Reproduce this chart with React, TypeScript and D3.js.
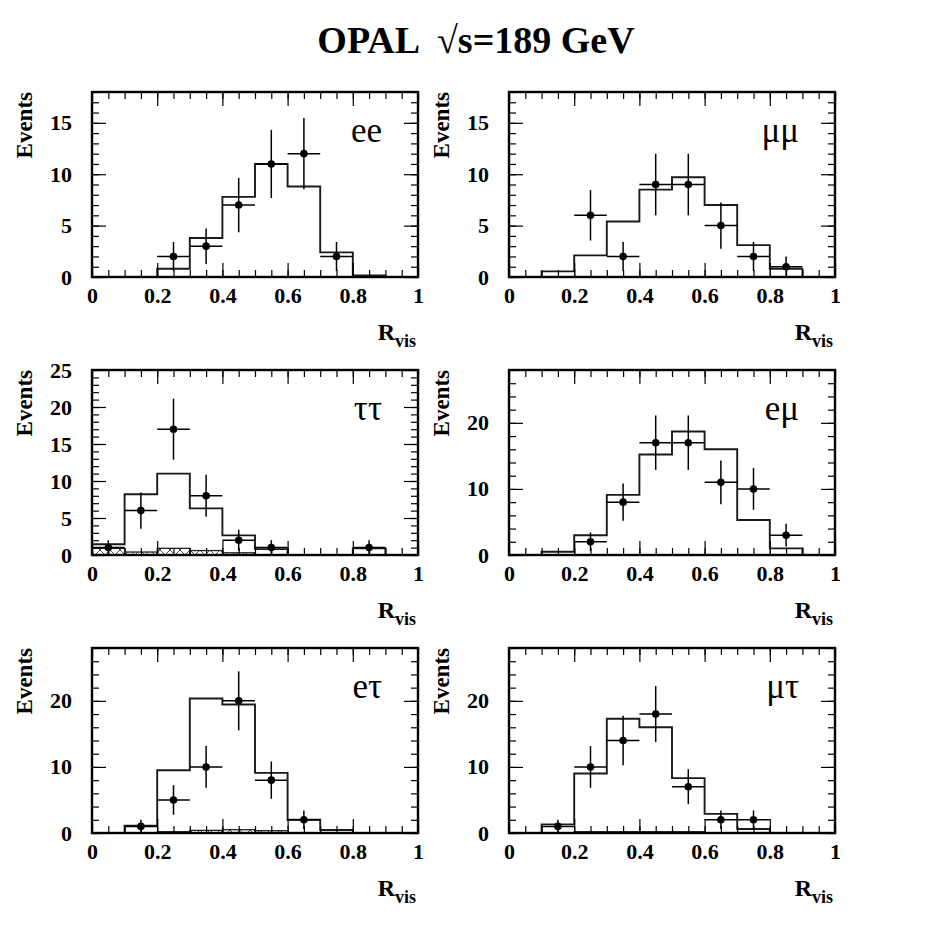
import React, { useEffect, useRef } from "react";
import * as d3 from "d3";

// bin edges of R_vis (10 bins of 0.1)
const binEdges = [0, 0.1, 0.2, 0.3, 0.4, 0.5, 0.6, 0.7, 0.8, 0.9, 1.0];
const binCenters = [0.05, 0.15, 0.25, 0.35, 0.45, 0.55, 0.65, 0.75, 0.85, 0.95];
const xTicks = [0, 0.2, 0.4, 0.6, 0.8, 1];

// ee
const eeMC = [0, 0, 0.8, 3.8, 7.8, 11.0, 8.8, 2.4, 0.15, 0];
const eeBkg = [0, 0, 0, 0, 0, 0, 0, 0, 0, 0];
const eeData = [0, 0, 2, 3, 7, 11, 12, 2, 0, 0];
const eeErr = [0, 0, 1.41, 1.73, 2.65, 3.32, 3.46, 1.41, 0, 0];

// mumu
const mmMC = [0, 0.55, 2.1, 5.4, 8.5, 9.7, 7.0, 3.1, 0.8, 0];
const mmBkg = [0, 0, 0, 0, 0, 0, 0, 0, 0, 0];
const mmData = [0, 0, 6, 2, 9, 9, 5, 2, 1, 0];
const mmErr = [0, 0, 2.45, 1.41, 3.0, 3.0, 2.24, 1.41, 1.0, 0];

// tautau
const ttMC = [1.45, 8.2, 11.0, 6.3, 2.65, 0.8, 0, 0, 0.9, 0];
const ttBkg = [0.9, 0.4, 0.9, 0.6, 0.3, 0, 0, 0, 0, 0];
const ttData = [1, 6, 17, 8, 2, 1, 0, 0, 1, 0];
const ttErr = [1.0, 2.45, 4.12, 2.83, 1.41, 1.0, 0, 0, 1.0, 0];

// emu
const emMC = [0, 0.5, 3.0, 9.1, 15.2, 18.7, 16.0, 5.3, 1.0, 0];
const emBkg = [0, 0, 0, 0, 0, 0, 0, 0, 0, 0];
const emData = [0, 0, 2, 8, 17, 17, 11, 10, 3, 0];
const emErr = [0, 0, 1.41, 2.83, 4.12, 4.12, 3.32, 3.16, 1.73, 0];

// etau
const etMC = [0, 1.1, 9.5, 20.35, 19.45, 9.1, 2.0, 0.45, 0, 0];
const etBkg = [0, 0, 0.2, 0.4, 0.5, 0.35, 0, 0, 0, 0];
const etData = [0, 1, 5, 10, 20, 8, 2, 0, 0, 0];
const etErr = [0, 1.0, 2.24, 3.16, 4.47, 2.83, 1.41, 0, 0, 0];

// mutau
const mtMC = [0, 1.3, 9.0, 17.3, 16.0, 8.3, 2.9, 0.6, 0, 0];
const mtBkg = [0, 0, 0.2, 0.2, 0.2, 0.2, 0, 0, 0, 0];
const mtData = [0, 1, 10, 14, 18, 7, 2, 2, 0, 0];
const mtErr = [0, 1.0, 3.16, 3.74, 4.24, 2.65, 1.41, 1.41, 0, 0];

type Panel = {
  label: string;
  mc: number[];
  bkg: number[];
  data: number[];
  err: number[];
  ymax: number;
  yTicks: number[];
  yMinor: number;
};

const panels: Panel[] = [
  { label: "ee", mc: eeMC, bkg: eeBkg, data: eeData, err: eeErr, ymax: 18, yTicks: [0, 5, 10, 15], yMinor: 1 },
  { label: "μμ", mc: mmMC, bkg: mmBkg, data: mmData, err: mmErr, ymax: 18, yTicks: [0, 5, 10, 15], yMinor: 1 },
  { label: "ττ", mc: ttMC, bkg: ttBkg, data: ttData, err: ttErr, ymax: 25, yTicks: [0, 5, 10, 15, 20, 25], yMinor: 1 },
  { label: "eμ", mc: emMC, bkg: emBkg, data: emData, err: emErr, ymax: 28, yTicks: [0, 10, 20], yMinor: 2 },
  { label: "eτ", mc: etMC, bkg: etBkg, data: etData, err: etErr, ymax: 28, yTicks: [0, 10, 20], yMinor: 2 },
  { label: "μτ", mc: mtMC, bkg: mtBkg, data: mtData, err: mtErr, ymax: 28, yTicks: [0, 10, 20], yMinor: 2 },
];

const FONT = "'Liberation Serif', 'Times New Roman', serif";
const colLeft = [92, 509];
const rowTop = [92, 370, 648];
const PW = 326;
const PH = 185;

const App: React.FC = () => {
  const ref = useRef<SVGSVGElement | null>(null);

  useEffect(() => {
    if (!ref.current) return;
    const svg = d3.select(ref.current);
    svg.selectAll("*").remove();

    // cross hatch for the background histogram
    const defs = svg.append("defs");
    const pat = defs
      .append("pattern")
      .attr("id", "hatch")
      .attr("patternUnits", "userSpaceOnUse")
      .attr("width", 10)
      .attr("height", 10);
    pat
      .append("path")
      .attr("d", "M0,0 L10,10 M10,0 L0,10")
      .attr("stroke", "#222")
      .attr("stroke-width", 0.8);

    // title
    svg
      .append("text")
      .attr("x", 476)
      .attr("y", 53)
      .attr("text-anchor", "middle")
      .attr("font-family", FONT)
      .attr("font-weight", "bold")
      .attr("font-size", 38)
      .style("white-space", "pre")
      .text("OPAL  √s=189 GeV");

    panels.forEach((p, i) => {
      const left = colLeft[i % 2];
      const top = rowTop[Math.floor(i / 2)];
      const x = d3.scaleLinear().domain([0, 1]).range([left, left + PW]);
      const y = d3.scaleLinear().domain([0, p.ymax]).range([top + PH, top]);
      const g = svg.append("g");

      // background histogram (hatched)
      p.bkg.forEach((v, b) => {
        if (v <= 0) return;
        g.append("rect")
          .attr("x", x(binEdges[b]))
          .attr("y", y(v))
          .attr("width", x(binEdges[b + 1]) - x(binEdges[b]))
          .attr("height", y(0) - y(v))
          .attr("fill", "url(#hatch)")
          .attr("stroke", "#222")
          .attr("stroke-width", 1.3);
      });

      // MC histogram outline
      const pts: [number, number][] = [[0, 0]];
      p.mc.forEach((v, b) => pts.push([binEdges[b], v]));
      pts.push([1, p.mc[p.mc.length - 1]]);
      pts.push([1, 0]);
      const line = d3
        .line<[number, number]>()
        .x((d) => x(d[0]))
        .y((d) => y(d[1]))
        .curve(d3.curveStepAfter);
      g.append("path")
        .attr("d", line(pts))
        .attr("fill", "none")
        .attr("stroke", "#1a1a1a")
        .attr("stroke-width", 1.9);

      // data points
      p.data.forEach((v, b) => {
        if (v <= 0) return;
        const cx = x(binCenters[b]);
        g.append("line")
          .attr("x1", x(binEdges[b]))
          .attr("x2", x(binEdges[b + 1]))
          .attr("y1", y(v))
          .attr("y2", y(v))
          .attr("stroke", "#000")
          .attr("stroke-width", 1.5);
        g.append("line")
          .attr("x1", cx)
          .attr("x2", cx)
          .attr("y1", y(Math.max(0, v - p.err[b])))
          .attr("y2", y(v + p.err[b]))
          .attr("stroke", "#000")
          .attr("stroke-width", 1.5);
        g.append("circle")
          .attr("cx", cx)
          .attr("cy", y(v))
          .attr("r", 3.8)
          .attr("fill", "#000");
      });

      // axes (ticks pointing inwards)
      const styleAxis = (a: d3.Selection<SVGGElement, unknown, null, undefined>) => {
        a.select(".domain").remove();
        a.selectAll("line").attr("stroke", "#000").attr("stroke-width", 1.2);
        a.selectAll("text")
          .attr("font-family", FONT)
          .attr("font-weight", "bold")
          .attr("font-size", 22)
          .attr("fill", "#000");
      };
      const xMinor = d3.range(0, 1.0001, 0.05);
      const yMinor = d3.range(0, p.ymax + 0.001, p.yMinor);

      const bottom = g.append("g").attr("transform", `translate(0,${top + PH})`);
      bottom.append("g").call(d3.axisBottom(x).tickValues(xMinor).tickSize(-7).tickFormat(() => "")).call(styleAxis);
      bottom
        .append("g")
        .call(d3.axisBottom(x).tickValues(xTicks).tickSize(-14).tickPadding(10).tickFormat(d3.format("~g")))
        .call(styleAxis);

      const topAx = g.append("g").attr("transform", `translate(0,${top})`);
      topAx.append("g").call(d3.axisTop(x).tickValues(xMinor).tickSize(-7).tickFormat(() => "")).call(styleAxis);
      topAx.append("g").call(d3.axisTop(x).tickValues(xTicks).tickSize(-14).tickFormat(() => "")).call(styleAxis);

      const leftAx = g.append("g").attr("transform", `translate(${left},0)`);
      leftAx.append("g").call(d3.axisLeft(y).tickValues(yMinor).tickSize(-7).tickFormat(() => "")).call(styleAxis);
      leftAx
        .append("g")
        .call(d3.axisLeft(y).tickValues(p.yTicks).tickSize(-14).tickPadding(20).tickFormat(d3.format("d")))
        .call(styleAxis);

      const rightAx = g.append("g").attr("transform", `translate(${left + PW},0)`);
      rightAx.append("g").call(d3.axisRight(y).tickValues(yMinor).tickSize(-7).tickFormat(() => "")).call(styleAxis);
      rightAx.append("g").call(d3.axisRight(y).tickValues(p.yTicks).tickSize(-14).tickFormat(() => "")).call(styleAxis);

      // frame
      g.append("rect")
        .attr("x", left)
        .attr("y", top)
        .attr("width", PW)
        .attr("height", PH)
        .attr("fill", "none")
        .attr("stroke", "#000")
        .attr("stroke-width", 2.4);

      // channel label
      g.append("text")
        .attr("x", left + PW - 36)
        .attr("y", top + 50)
        .attr("text-anchor", "end")
        .attr("font-family", FONT)
        .attr("font-size", 35)
        .text(p.label);

      // y title
      g.append("text")
        .attr("transform", `translate(${left - 60},${top}) rotate(-90)`)
        .attr("text-anchor", "end")
        .attr("font-family", FONT)
        .attr("font-weight", "bold")
        .attr("font-size", 23)
        .text("Events");

      // x title
      const xt = g
        .append("text")
        .attr("x", left + PW - 2)
        .attr("y", top + PH + 63)
        .attr("text-anchor", "end")
        .attr("font-family", FONT)
        .attr("font-weight", "bold")
        .attr("font-size", 24);
      xt.append("tspan").text("R");
      xt.append("tspan").attr("font-size", 18).attr("dy", 7).text("vis");
    });
  }, []);

  return (
    <svg
      ref={ref}
      width={926}
      height={926}
      style={{ position: "absolute", left: 0, top: 0, background: "#fff" }}
    ></svg>
  );
};

export default App;
